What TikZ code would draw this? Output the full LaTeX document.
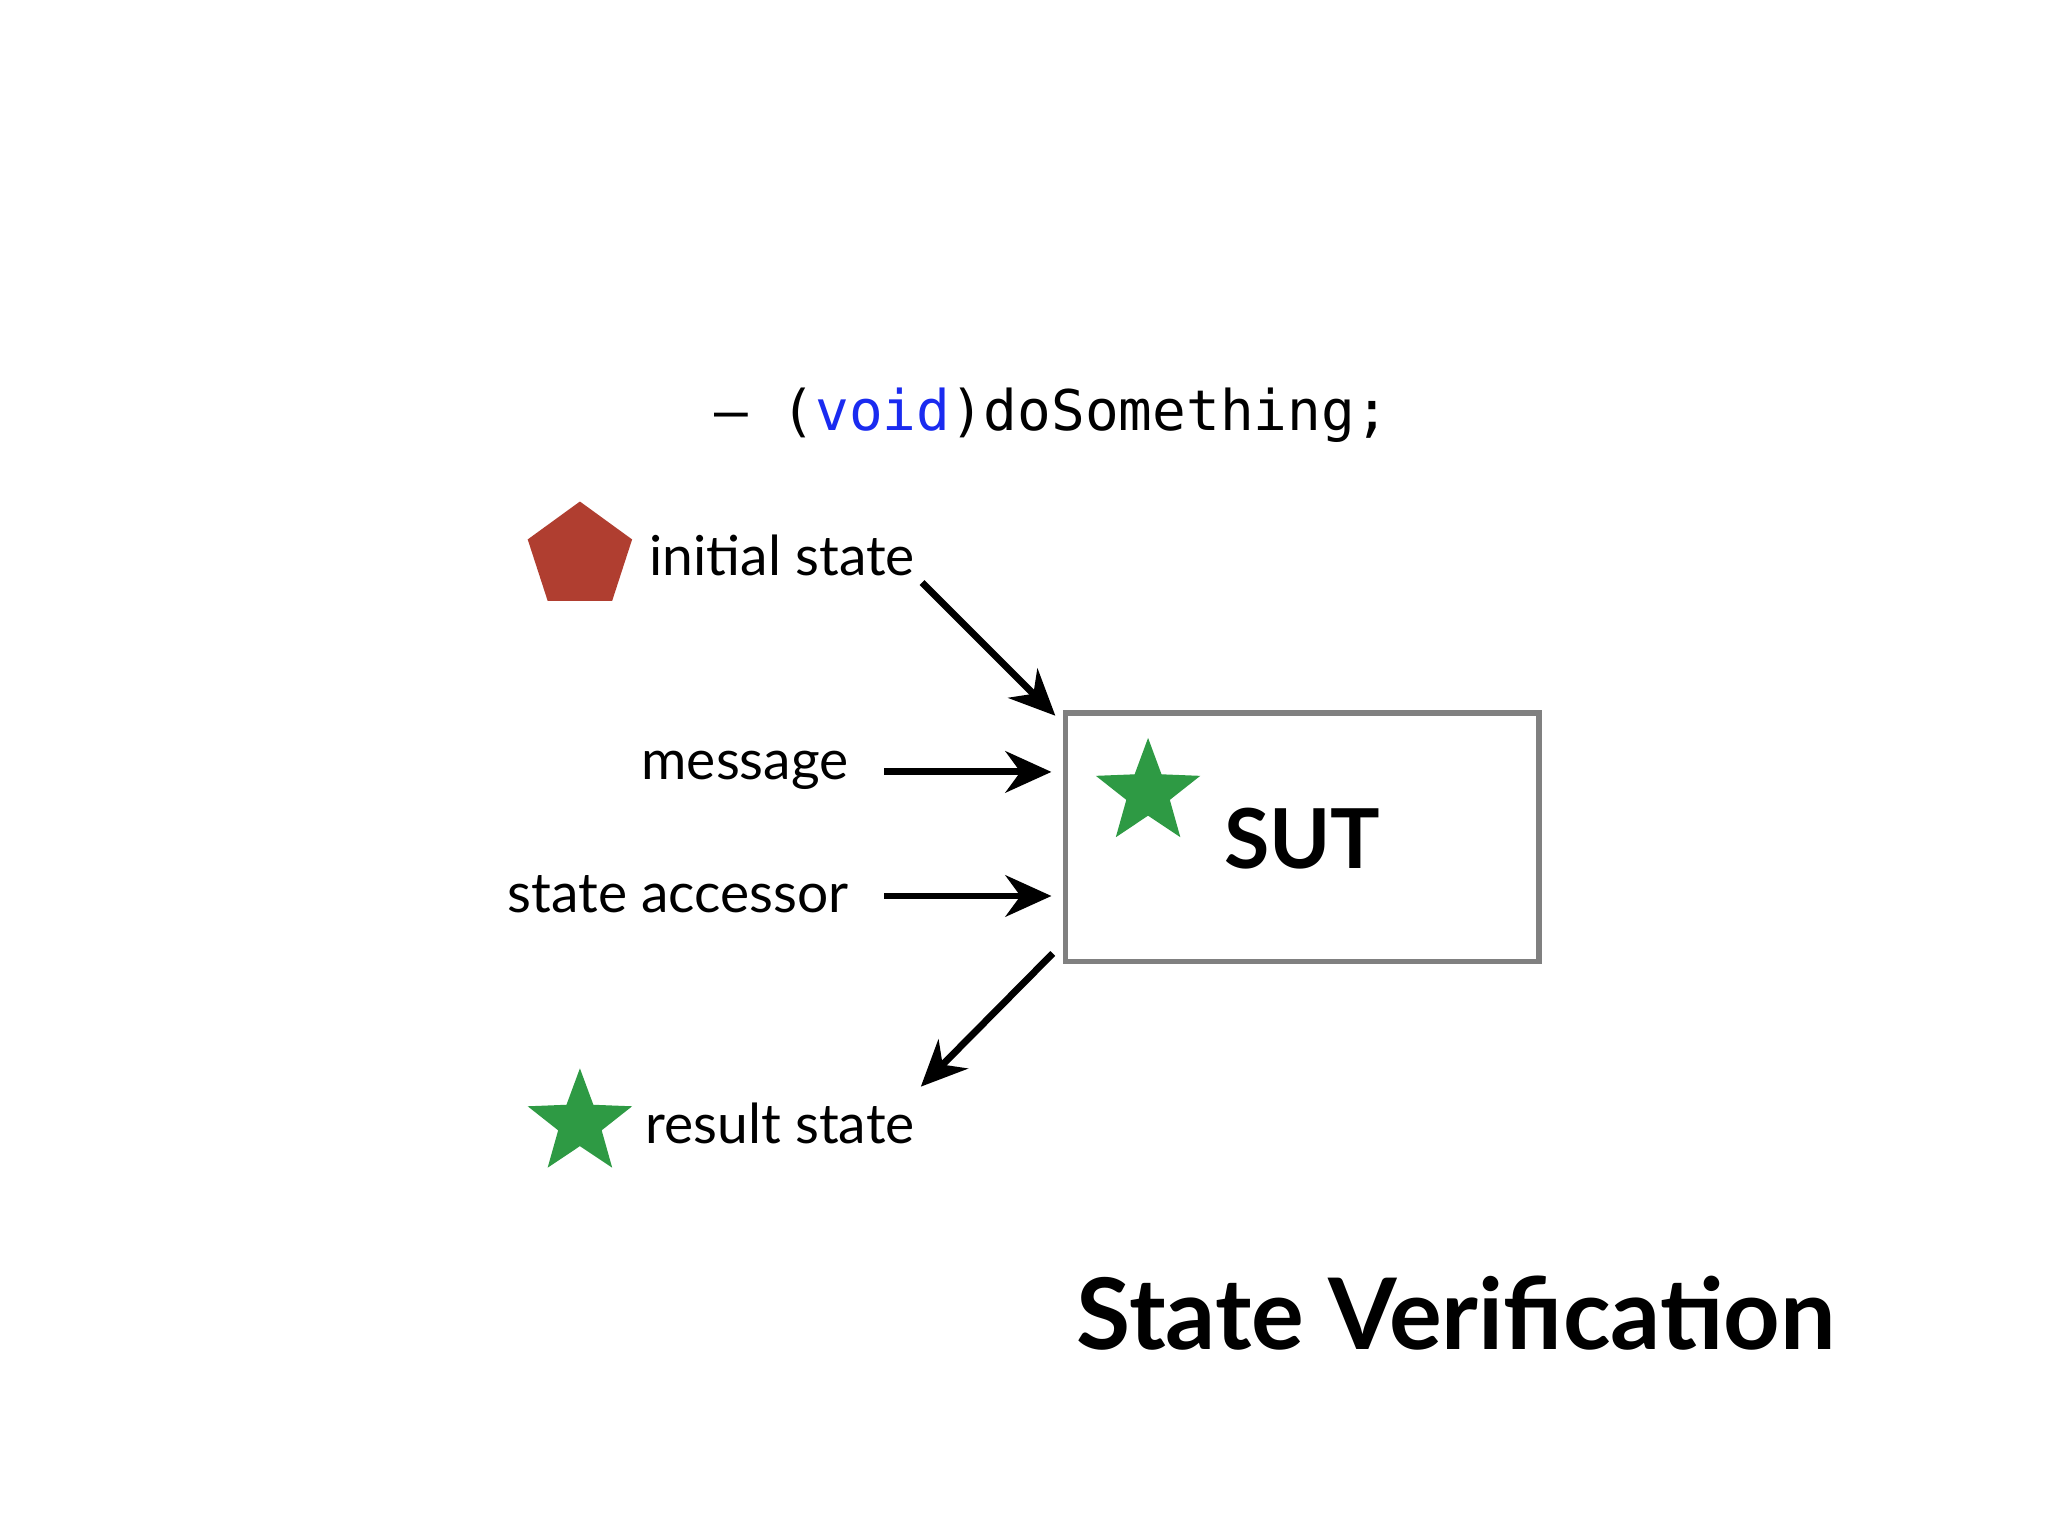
\documentclass[tikz,border=0pt]{standalone}
\usepackage{fontspec}
\setmainfont{Lato}
\setmonofont{DejaVu Sans Mono}
\usetikzlibrary{shapes.geometric,arrows.meta}
\definecolor{sgreen}{HTML}{2E9A44}
\definecolor{sred}{HTML}{B03E30}
\definecolor{kwblue}{HTML}{1A2BF0}
\tikzset{
 lbl/.style={font=\fontsize{12}{14}\selectfont},
 arr/.style={line width=1.5pt,-{Stealth[length=10pt,width=9pt]}},
 greenstar/.style={star,star points=5,star point ratio=2.4,fill=sgreen,minimum size=#1,inner sep=0pt},
}
\begin{document}
\begin{tikzpicture}[x=0.01cm,y=-0.01cm]
\useasboundingbox[fill=white] (0,0) rectangle (1568,1176);
\node (code) at (805,318) {\fontsize{12.2}{15}\selectfont\ttfamily \textendash{} (\textcolor{kwblue}{void})doSomething;};
\node[regular polygon,regular polygon sides=5,fill=sred,minimum size=0.84cm,inner sep=0pt] (pent) at (444,426) {};
\node[lbl,anchor=west] (init) at (485,425) {initial state};
\node[lbl,anchor=east] (msg) at (662,590) {message};
\node[lbl,anchor=east] (acc) at (662,685) {state accessor};
\node[draw=gray,line width=1.2pt,minimum width=3.62cm,minimum height=1.90cm,inner sep=0pt] (sut) at (997,641) {};
\node[greenstar=0.84cm] (s1) at (879,607) {};
\node[font=\bfseries\fontsize{18}{22}\selectfont] (sutl) at (997,642) {SUT};
\node[greenstar=0.84cm] (s2) at (444,860) {};
\node[lbl,anchor=west] (res) at (482,860) {result state};
\node[font=\bfseries\fontsize{21.5}{26}\selectfont] (title) at (1115,1005) {State Verification};
\coordinate (a1) at (706,446); \coordinate (a1e) at (808,548);
\coordinate (m1) at (677,591); \coordinate (m2) at (805,591);
\coordinate (c1) at (677,686); \coordinate (c2) at (805,686);
\coordinate (r1) at (806,730); \coordinate (r2) at (705,832);
\draw[arr] (a1) -- (a1e);
\draw[arr] (m1) -- (m2);
\draw[arr] (c1) -- (c2);
\draw[arr] (r1) -- (r2);
\end{tikzpicture}
\end{document}
